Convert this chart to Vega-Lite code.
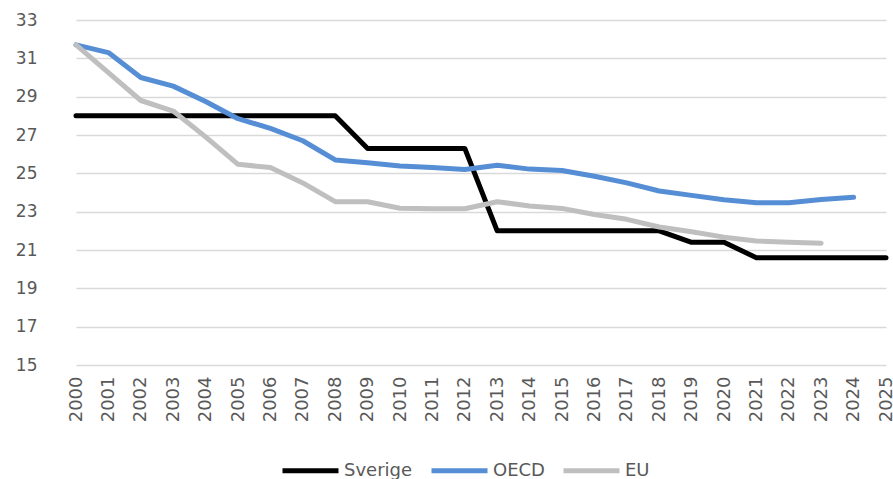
{
  "$schema": "https://vega.github.io/schema/vega-lite/v6.json",
  "width": 833,
  "height": 345,
  "autosize": "none",
  "padding": {"left": 60, "top": 20, "right": 0, "bottom": 114},
  "background": "white",
  "config": {"view": {"stroke": null}, "font": "DejaVu Sans"},
  "data": {"values": [
    {"year":"2000","series":"Sverige","value":28.0},
    {"year":"2001","series":"Sverige","value":28.0},
    {"year":"2002","series":"Sverige","value":28.0},
    {"year":"2003","series":"Sverige","value":28.0},
    {"year":"2004","series":"Sverige","value":28.0},
    {"year":"2005","series":"Sverige","value":28.0},
    {"year":"2006","series":"Sverige","value":28.0},
    {"year":"2007","series":"Sverige","value":28.0},
    {"year":"2008","series":"Sverige","value":28.0},
    {"year":"2009","series":"Sverige","value":26.3},
    {"year":"2010","series":"Sverige","value":26.3},
    {"year":"2011","series":"Sverige","value":26.3},
    {"year":"2012","series":"Sverige","value":26.3},
    {"year":"2013","series":"Sverige","value":22.0},
    {"year":"2014","series":"Sverige","value":22.0},
    {"year":"2015","series":"Sverige","value":22.0},
    {"year":"2016","series":"Sverige","value":22.0},
    {"year":"2017","series":"Sverige","value":22.0},
    {"year":"2018","series":"Sverige","value":22.0},
    {"year":"2019","series":"Sverige","value":21.4},
    {"year":"2020","series":"Sverige","value":21.4},
    {"year":"2021","series":"Sverige","value":20.6},
    {"year":"2022","series":"Sverige","value":20.6},
    {"year":"2023","series":"Sverige","value":20.6},
    {"year":"2024","series":"Sverige","value":20.6},
    {"year":"2025","series":"Sverige","value":20.6},
    {"year":"2000","series":"OECD","value":31.7},
    {"year":"2001","series":"OECD","value":31.3},
    {"year":"2002","series":"OECD","value":30.0},
    {"year":"2003","series":"OECD","value":29.55},
    {"year":"2004","series":"OECD","value":28.75},
    {"year":"2005","series":"OECD","value":27.85},
    {"year":"2006","series":"OECD","value":27.35},
    {"year":"2007","series":"OECD","value":26.7},
    {"year":"2008","series":"OECD","value":25.7},
    {"year":"2009","series":"OECD","value":25.55},
    {"year":"2010","series":"OECD","value":25.38},
    {"year":"2011","series":"OECD","value":25.3},
    {"year":"2012","series":"OECD","value":25.2},
    {"year":"2013","series":"OECD","value":25.42},
    {"year":"2014","series":"OECD","value":25.22},
    {"year":"2015","series":"OECD","value":25.15},
    {"year":"2016","series":"OECD","value":24.85},
    {"year":"2017","series":"OECD","value":24.5},
    {"year":"2018","series":"OECD","value":24.08},
    {"year":"2019","series":"OECD","value":23.85},
    {"year":"2020","series":"OECD","value":23.62},
    {"year":"2021","series":"OECD","value":23.47},
    {"year":"2022","series":"OECD","value":23.47},
    {"year":"2023","series":"OECD","value":23.63},
    {"year":"2024","series":"OECD","value":23.75},
    {"year":"2000","series":"EU","value":31.7},
    {"year":"2001","series":"EU","value":30.25},
    {"year":"2002","series":"EU","value":28.8},
    {"year":"2003","series":"EU","value":28.25},
    {"year":"2004","series":"EU","value":26.9},
    {"year":"2005","series":"EU","value":25.47},
    {"year":"2006","series":"EU","value":25.3},
    {"year":"2007","series":"EU","value":24.5},
    {"year":"2008","series":"EU","value":23.52},
    {"year":"2009","series":"EU","value":23.52},
    {"year":"2010","series":"EU","value":23.18},
    {"year":"2011","series":"EU","value":23.15},
    {"year":"2012","series":"EU","value":23.15},
    {"year":"2013","series":"EU","value":23.52},
    {"year":"2014","series":"EU","value":23.3},
    {"year":"2015","series":"EU","value":23.17},
    {"year":"2016","series":"EU","value":22.85},
    {"year":"2017","series":"EU","value":22.6},
    {"year":"2018","series":"EU","value":22.2},
    {"year":"2019","series":"EU","value":21.95},
    {"year":"2020","series":"EU","value":21.67},
    {"year":"2021","series":"EU","value":21.47},
    {"year":"2022","series":"EU","value":21.4},
    {"year":"2023","series":"EU","value":21.35}
  ]},
  "mark": {"type": "line", "strokeWidth": 5, "strokeCap": "round", "strokeJoin": "round"},
  "encoding": {
    "x": {
      "field": "year", "type": "ordinal",
      "scale": {"type": "point", "padding": 0, "range": [16, 826]},
      "axis": {"title": null, "labelAngle": -90, "labelFontSize": 18, "labelColor": "#595959", "labelPadding": 11, "domain": false, "ticks": false, "grid": false}
    },
    "y": {
      "field": "value", "type": "quantitative",
      "scale": {"domain": [15, 33], "nice": false, "zero": false},
      "axis": {"title": null, "values": [15,17,19,21,23,25,27,29,31,33], "labelFontSize": 17, "labelColor": "#595959", "labelPadding": 23, "domain": false, "ticks": false, "gridColor": "#d9d9d9", "gridWidth": 1.5}
    },
    "color": {
      "field": "series", "type": "nominal",
      "scale": {"domain": ["Sverige", "OECD", "EU"], "range": ["#000000", "#558ed5", "#bfbfbf"]},
      "legend": {"title": null, "orient": "none", "direction": "horizontal", "legendX": 220, "legendY": 420, "symbolType": "stroke", "symbolSize": 3136, "symbolStrokeWidth": 5, "labelFontSize": 18, "labelColor": "#595959", "columnPadding": 8, "labelOffset": 3}
    },
    "order": {"field": "year"}
  }
}
